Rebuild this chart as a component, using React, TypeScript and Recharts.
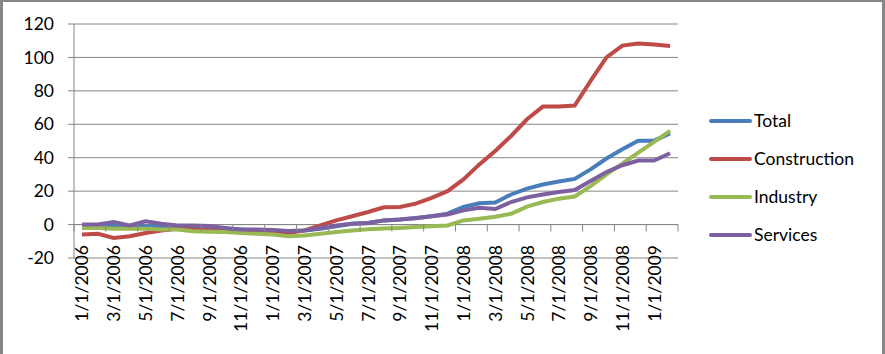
import React from 'react';
import { LineChart, Line, XAxis, YAxis, CartesianGrid, ReferenceLine, Legend } from 'recharts';

const months: string[] = [
  '1/1/2006', '2/1/2006', '3/1/2006', '4/1/2006', '5/1/2006', '6/1/2006', '7/1/2006', '8/1/2006', '9/1/2006', '10/1/2006', '11/1/2006', '12/1/2006',
  '1/1/2007', '2/1/2007', '3/1/2007', '4/1/2007', '5/1/2007', '6/1/2007', '7/1/2007', '8/1/2007', '9/1/2007', '10/1/2007', '11/1/2007', '12/1/2007',
  '1/1/2008', '2/1/2008', '3/1/2008', '4/1/2008', '5/1/2008', '6/1/2008', '7/1/2008', '8/1/2008', '9/1/2008', '10/1/2008', '11/1/2008', '12/1/2008',
  '1/1/2009', '2/1/2009',
];

const total: number[] = [
  -0.5, -0.5, -1, -1, -1, -1, -1, -1.5, -2, -2.5, -3, -3.5,
  -3.5, -4, -3.5, -2.5, -1, 0.5, 1, 2.5, 3, 4, 5, 6.5,
  10.5, 12.7, 13.2, 18, 21.5, 24, 25.8, 27.3, 33, 39.5, 45, 50.2,
  50.2, 54.6,
];

const construction: number[] = [
  -6, -5.5, -8, -7, -5, -3.5, -2.5, -3, -3.5, -3.5, -4, -4.5,
  -5, -5, -3.5, -0.5, 2.5, 5, 7.5, 10.3, 10.5, 12.5, 16, 20,
  27, 36, 44, 53, 63, 70.6, 70.6, 71.2, 86, 100, 107.1, 108.3,
  107.7, 106.9,
];

const industry: number[] = [
  -2, -2, -2.5, -2.5, -2.5, -3, -3, -4, -4.3, -4.5, -5, -5.5,
  -6, -7, -6.5, -5.5, -4.5, -3.5, -2.8, -2.3, -2, -1.5, -1, -0.5,
  2.5, 3.5, 4.7, 6.5, 10.7, 13.5, 15.5, 16.8, 23, 30, 36.5, 43,
  49.5, 56,
];

const services: number[] = [
  0, 0, 1.5, -0.5, 2, 0.5, -0.5, -0.5, -0.8, -2, -3, -3,
  -3.2, -3.8, -3.5, -2, -0.5, 0.5, 1, 2.5, 3, 3.8, 5, 6,
  8.5, 10, 9.3, 13.5, 16.3, 18, 19.5, 20.7, 26, 31.5, 35.5, 38.3,
  38.3, 42.7,
];

const yTicks: number[] = [-20, 0, 20, 40, 60, 80, 100, 120];

const seriesNames: string[] = ['Total', 'Construction', 'Industry', 'Services'];
const seriesKeys: string[] = ['total', 'construction', 'industry', 'services'];
const seriesColors: string[] = ['#4A7EBB', '#BE4B48', '#98B954', '#7D60A0'];

const data = months.map((m, i) => ({
  month: m,
  total: total[i],
  construction: construction[i],
  industry: industry[i],
  services: services[i],
}));

const W = 885;
const H = 354;
const PLOT_LEFT = 74;
const PLOT_RIGHT = 678;
const PLOT_TOP = 24;
const PLOT_BOTTOM = 258;
const PLOT_H = PLOT_BOTTOM - PLOT_TOP;
const BAND = (PLOT_RIGHT - PLOT_LEFT) / months.length;
const YMIN = -20;
const YMAX = 120;
const GRID = '#868686';
const FONT = 'Lato, "Open Sans", sans-serif';
const FS = 17.5;
const LAST_LABEL = months[months.length - 2];

const XTick = (props: any) => {
  const { x, y, payload } = props;
  const zeroY = y - (PLOT_H * (0 - YMIN)) / (YMAX - YMIN);
  const labelTop = y - 13;
  const tickX = x - BAND / 2;
  return (
    <g>
      <line x1={tickX} x2={tickX} y1={zeroY} y2={zeroY + 7} stroke={GRID} strokeWidth={1} />
      {payload.value === LAST_LABEL && (
        <line x1={x + BAND * 1.5} x2={x + BAND * 1.5} y1={zeroY} y2={zeroY + 7} stroke={GRID} strokeWidth={1} />
      )}
      <text
        x={x}
        y={labelTop}
        transform={`rotate(-90, ${x}, ${labelTop})`}
        textAnchor="end"
        dominantBaseline="central"
        fontFamily={FONT}
        fontSize={FS}
        fill="#000"
      >
        {payload.value}
      </text>
    </g>
  );
};

const LegendContent = () => (
  <div style={{ fontFamily: FONT, fontSize: FS, color: '#000' }}>
    {seriesNames.map((n, i) => (
      <div key={n} style={{ display: 'flex', alignItems: 'center', height: 38 }}>
        <div style={{ width: 43, height: 4, background: seriesColors[i], borderRadius: 2 }} />
        <span style={{ marginLeft: 2, lineHeight: '20px' }}>{n}</span>
      </div>
    ))}
  </div>
);

export default function App() {
  return (
    <div style={{ position: 'absolute', left: 0, top: 0, width: W, height: H, background: '#fff' }}>
      <LineChart
        width={W}
        height={H}
        data={data}
        margin={{ top: PLOT_TOP, right: W - PLOT_RIGHT, bottom: 0, left: 0 }}
      >
        <CartesianGrid vertical={false} stroke={GRID} strokeWidth={1} />
        <XAxis
          dataKey="month"
          scale="point"
          padding={{ left: BAND / 2, right: BAND / 2 }}
          interval={1}
          height={H - PLOT_BOTTOM}
          axisLine={false}
          tickLine={false}
          tickSize={0}
          tickMargin={0}
          tick={<XTick />}
        />
        <YAxis
          domain={[YMIN, YMAX]}
          ticks={yTicks}
          interval={0}
          width={PLOT_LEFT}
          axisLine={{ stroke: GRID }}
          tickLine={{ stroke: GRID }}
          tickSize={6}
          tickMargin={14}
          tick={{ fontFamily: FONT, fontSize: FS, fill: '#000' }}
        />
        <ReferenceLine y={0} stroke={GRID} strokeWidth={1} />
        {seriesKeys.map((k, i) => (
          <Line
            key={k}
            type="linear"
            dataKey={k}
            name={seriesNames[i]}
            stroke={seriesColors[i]}
            strokeWidth={4}
            dot={false}
            activeDot={false}
            isAnimationActive={false}
          />
        ))}
        <Legend
          layout="horizontal"
          verticalAlign="middle"
          align="center"
          wrapperStyle={{ left: 709, top: 102, width: 170 }}
          content={<LegendContent />}
        />
      </LineChart>
      <div
        style={{
          position: 'absolute',
          left: 0,
          top: 0,
          width: W,
          height: H,
          boxSizing: 'border-box',
          borderLeft: `3px solid ${GRID}`,
          borderTop: `2px solid ${GRID}`,
          borderRight: `3px solid ${GRID}`,
          pointerEvents: 'none',
        }}
      />
    </div>
  );
}
